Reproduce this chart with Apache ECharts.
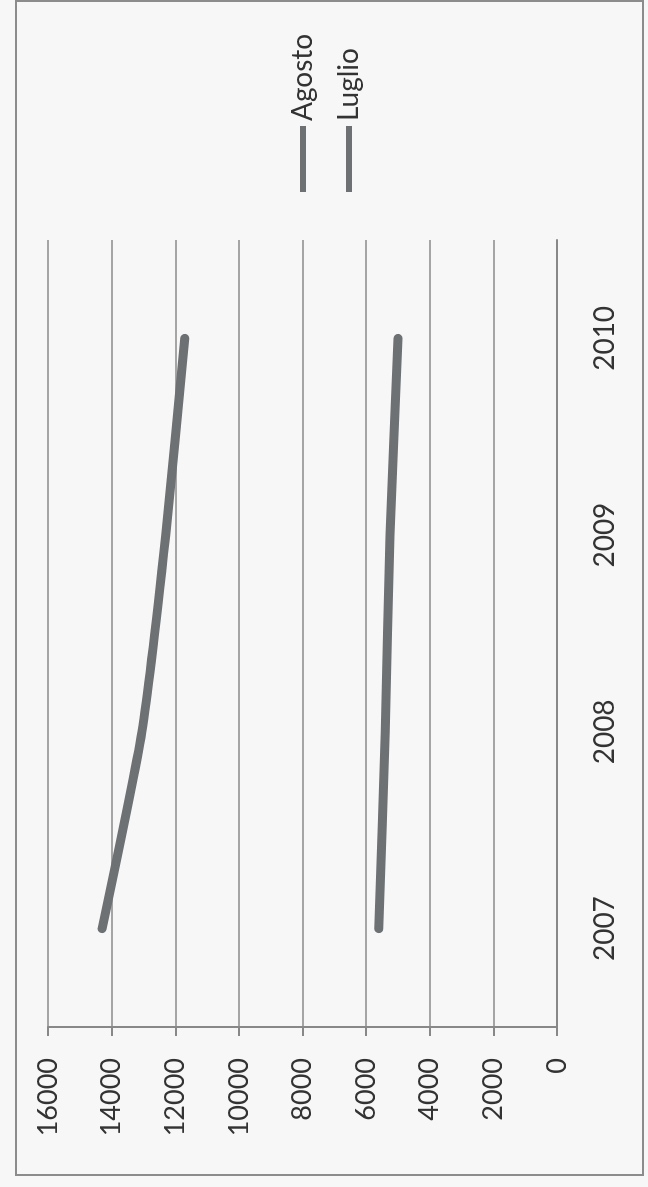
<!DOCTYPE html>
<html>
<head>
<meta charset="utf-8">
<style>
  html, body { margin: 0; padding: 0; background: #f7f7f7; overflow: hidden; }
  /* chart drawn landscape then turned a quarter to the left, like the scanned page */
  #chart {
    position: absolute; left: 0; top: 0;
    width: 1187px; height: 648px;
    transform-origin: 0 0;
    transform: translate(0, 1187px) rotate(-90deg);
  }
</style>
<script src="https://cdn.jsdelivr.net/npm/echarts@6/dist/echarts.min.js"></script>
</head>
<body>
<div id="chart"></div>
<script>
// dati
const anni = ['2007', '2008', '2009', '2010']
const agosto = [14300, 13050, 12300, 11700]
const luglio = [5600, 5400, 5250, 5000]
const valoreTicks = { min: 0, max: 16000, interval: 2000 }

const grigio = '#6d7174'
const font = 'Lato'

const chart = echarts.init(document.getElementById('chart'))
chart.setOption({
  backgroundColor: '#f7f7f7',
  animation: false,
  textStyle: { fontFamily: font },
  graphic: [
    {
      type: 'rect',
      shape: { x: 12, y: 16, width: 1174, height: 627 },
      style: { fill: 'none', stroke: '#8c8c8c', lineWidth: 2 },
    },
  ],
  grid: { left: 160, right: 240, top: 48, bottom: 91 },
  legend: {
    orient: 'vertical',
    left: 990,
    top: 284,
    icon: 'rect',
    itemWidth: 66,
    itemHeight: 6,
    itemGap: 18,
    textStyle: { fontSize: 28, color: '#333', fontFamily: font },
    data: ['Agosto', 'Luglio'],
  },
  xAxis: {
    type: 'category',
    data: anni,
    axisLine: { lineStyle: { color: '#888', width: 2 } },
    axisTick: { length: 9, lineStyle: { color: '#888', width: 2 } },
    axisLabel: { margin: 34, fontSize: 28, color: '#333' },
  },
  yAxis: {
    type: 'value',
    min: valoreTicks.min,
    max: valoreTicks.max,
    interval: valoreTicks.interval,
    axisLine: { show: true, lineStyle: { color: '#888', width: 2 } },
    axisTick: { show: true, length: 9, lineStyle: { color: '#888', width: 2 } },
    axisLabel: { margin: 31, fontSize: 27, color: '#333', formatter: (v) => String(v) },
    splitLine: { lineStyle: { color: '#8a8a8a', width: 1.5 } },
  },
  series: [
    {
      name: 'Agosto',
      type: 'line',
      data: agosto,
      smooth: 0.2,
      symbol: 'none',
      color: grigio,
      lineStyle: { width: 9, color: grigio, cap: 'round', join: 'round' },
    },
    {
      name: 'Luglio',
      type: 'line',
      data: luglio,
      smooth: 0.2,
      symbol: 'none',
      color: grigio,
      lineStyle: { width: 9, color: grigio, cap: 'round', join: 'round' },
    },
  ],
})
</script>
</body>
</html>
